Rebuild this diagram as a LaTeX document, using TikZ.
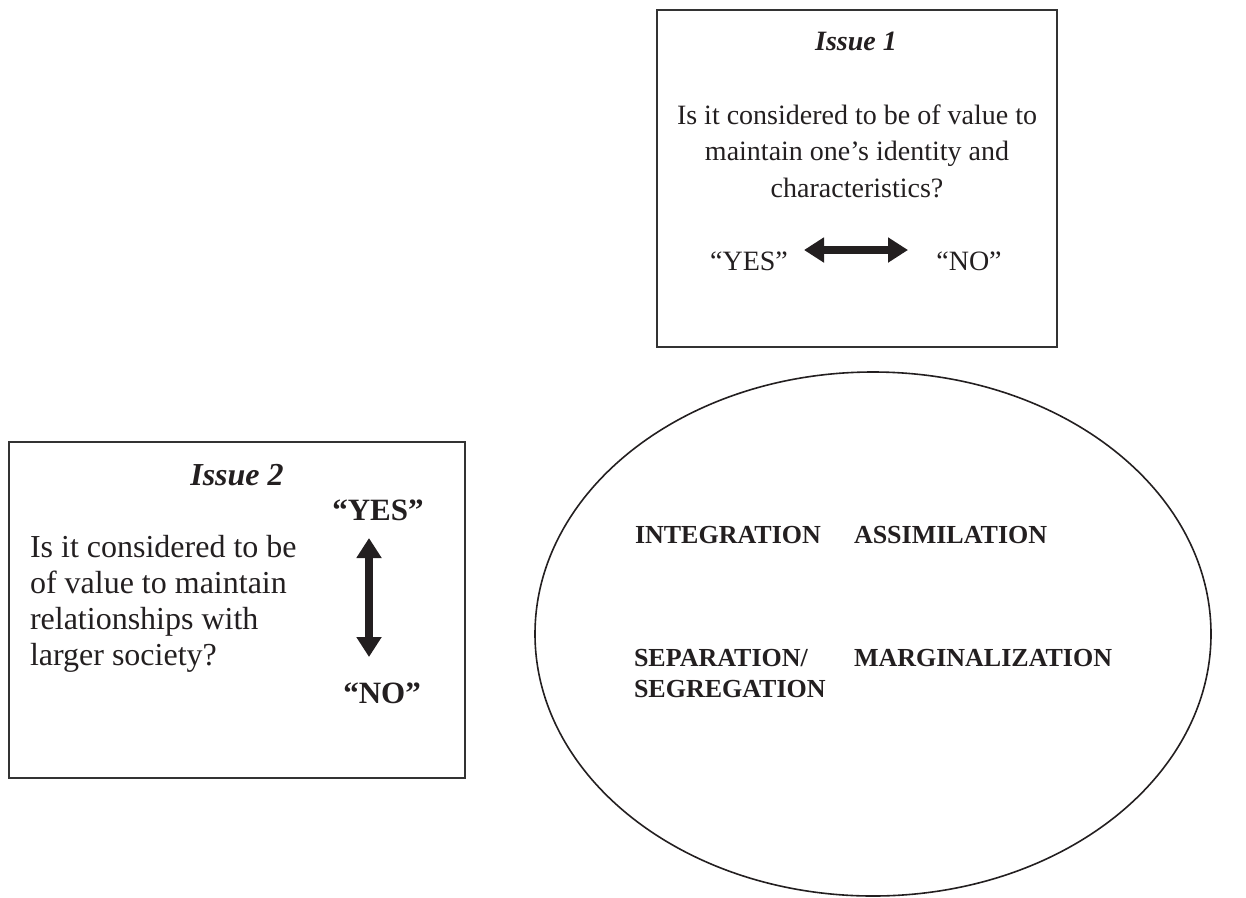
\documentclass[tikz,border=0pt]{standalone}
\usepackage{fontspec}
\setmainfont{Liberation Serif}
\usetikzlibrary{arrows.meta,shapes.geometric}
\definecolor{ink}{HTML}{231F20}
\definecolor{edge}{HTML}{333333}
\tikzset{
  panel/.style={draw=edge, line width=2pt, inner sep=0pt},
  txt/.style={text=ink, inner sep=0pt, outer sep=0pt},
  fatarrow/.style={draw=ink, line width=7.5pt,
    {Triangle[length=20pt,width=24pt]}-{Triangle[length=20pt,width=24pt]}, shorten <=0pt, shorten >=0pt},
  oval/.style={draw=ink, line width=1.6pt, ellipse, inner sep=0pt},
  big/.style={txt, font=\fontsize{28}{36.5}\selectfont},
  bigger/.style={txt, font=\fontsize{32}{36}\selectfont},
  strat/.style={txt, font=\fontsize{26}{31}\selectfont\bfseries, anchor=base west, align=left},
}
\begin{document}
\begin{tikzpicture}[x=1pt,y=-1pt]
\useasboundingbox (0,0) rectangle (1246,897);
% Issue 1 box
\node[panel, minimum width=400pt, minimum height=337pt] (box1) at (857,178.5) {};
\node[big, anchor=base, font=\fontsize{28}{36.5}\selectfont\bfseries\itshape] (iss1) at (856,50) {Issue 1};
\node[big, anchor=base, align=center] (q1) at (857,197) {Is it considered to be of value to\\maintain one’s identity and\\characteristics?};
\node[big, anchor=base] (yes1) at (749,270) {“YES”};
\node[big, anchor=base] (no1) at (969,270) {“NO”};
\coordinate (a1l) at (804,250);
\coordinate (a1r) at (908,250);
\draw[fatarrow] (a1l) -- (a1r);
% Issue 2 box
\node[panel, minimum width=456pt, minimum height=336pt] (box2) at (237,610) {};
\node[bigger, anchor=base, font=\fontsize{32}{36}\selectfont\bfseries\itshape] (iss2) at (237,485) {Issue 2};
\node[bigger, anchor=base west, align=left] (q2) at (30,665) {Is it considered to be\\of value to maintain\\relationships with\\larger society?};
\node[bigger, anchor=base, font=\fontsize{31}{36}\selectfont\bfseries] (yes2) at (378,520) {“YES”};
\node[bigger, anchor=base, font=\fontsize{31}{36}\selectfont\bfseries] (no2) at (382,703) {“NO”};
\coordinate (a2t) at (369,538);
\coordinate (a2b) at (369,657);
\draw[fatarrow] (a2t) -- (a2b);
% Ellipse of strategies
\node[oval, minimum width=676pt, minimum height=524pt] (circ) at (873,634) {};
\node[strat] (integ) at (635,543) {INTEGRATION};
\node[strat] (assim) at (854,543) {ASSIMILATION};
\node[strat] (separ) at (634,697) {SEPARATION/\\SEGREGATION};
\node[strat] (margi) at (854,666) {MARGINALIZATION};
\end{tikzpicture}
\end{document}
